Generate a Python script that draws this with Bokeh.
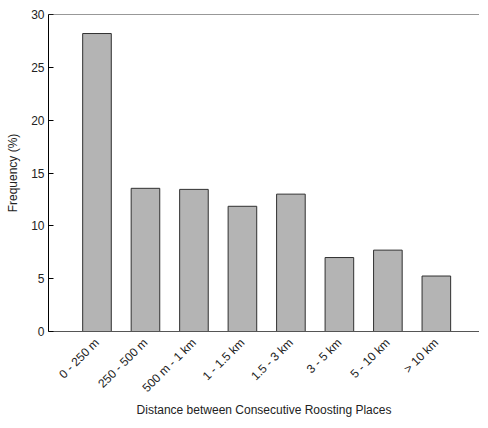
import math
from bokeh.plotting import figure
from bokeh.models import ColumnDataSource, FixedTicker, Span, Range1d
from bokeh.embed import file_html
from bokeh.resources import INLINE

categories = ["0 - 250 m", "250 - 500 m", "500 m - 1 km", "1 - 1.5 km",
              "1.5 - 3 km", "3 - 5 km", "5 - 10 km", "> 10 km"]
frequency = [28.2, 13.55, 13.45, 11.85, 13.0, 7.0, 7.7, 5.25]
y_ticks = [0, 5, 10, 15, 20, 25, 30]

positions = list(range(1, len(categories) + 1))
src = ColumnDataSource(dict(x=positions, top=frequency))

p = figure(width=479, height=419, output_backend="svg", toolbar_location=None,
           x_range=Range1d(0, 8.89), y_range=Range1d(0, 30),
           min_border_left=48, min_border_right=0, min_border_top=14, min_border_bottom=0)
p.outline_line_color = None
p.xgrid.grid_line_color = None
p.ygrid.grid_line_color = None

p.vbar(x="x", top="top", bottom=0, width=0.59, source=src,
       fill_color="#b4b4b4", line_color="#303030", line_width=1)

p.add_layout(Span(location=30, dimension="width", line_color="#333333", line_width=1.2))

font = "Liberation Sans"
# y axis
p.yaxis.ticker = FixedTicker(ticks=y_ticks)
p.yaxis.minor_tick_line_color = None
p.yaxis.major_tick_in = 5
p.yaxis.major_tick_out = 0
p.yaxis.axis_line_color = "black"
p.yaxis.major_tick_line_color = "black"
p.yaxis.major_label_text_font = font
p.yaxis.major_label_text_font_size = "12px"
p.yaxis.major_label_text_color = "#222222"
p.yaxis.major_label_standoff = 4
p.yaxis.axis_label = "Frequency (%)"
p.yaxis.axis_label_text_font = font
p.yaxis.axis_label_text_font_size = "12px"
p.yaxis.axis_label_text_font_style = "normal"
p.yaxis.axis_label_text_color = "#222222"
p.yaxis.axis_label_standoff = 8

# x axis
p.xaxis.ticker = FixedTicker(ticks=positions)
p.xaxis.major_label_overrides = {pos: lab for pos, lab in zip(positions, categories)}
p.xaxis.major_label_orientation = math.pi / 4
p.xaxis.major_tick_line_color = None
p.xaxis.minor_tick_line_color = None
p.xaxis.axis_line_color = "#555555"
p.xaxis.major_label_text_font = font
p.xaxis.major_label_text_font_size = "12px"
p.xaxis.major_label_text_color = "#222222"
p.xaxis.major_label_standoff = 3
p.xaxis.axis_label = "Distance between Consecutive Roosting Places"
p.xaxis.axis_label_text_font = font
p.xaxis.axis_label_text_font_size = "12px"
p.xaxis.axis_label_text_font_style = "normal"
p.xaxis.axis_label_text_color = "#222222"
p.xaxis.axis_label_standoff = 0

open("out.html", "w").write(file_html(p, INLINE))
